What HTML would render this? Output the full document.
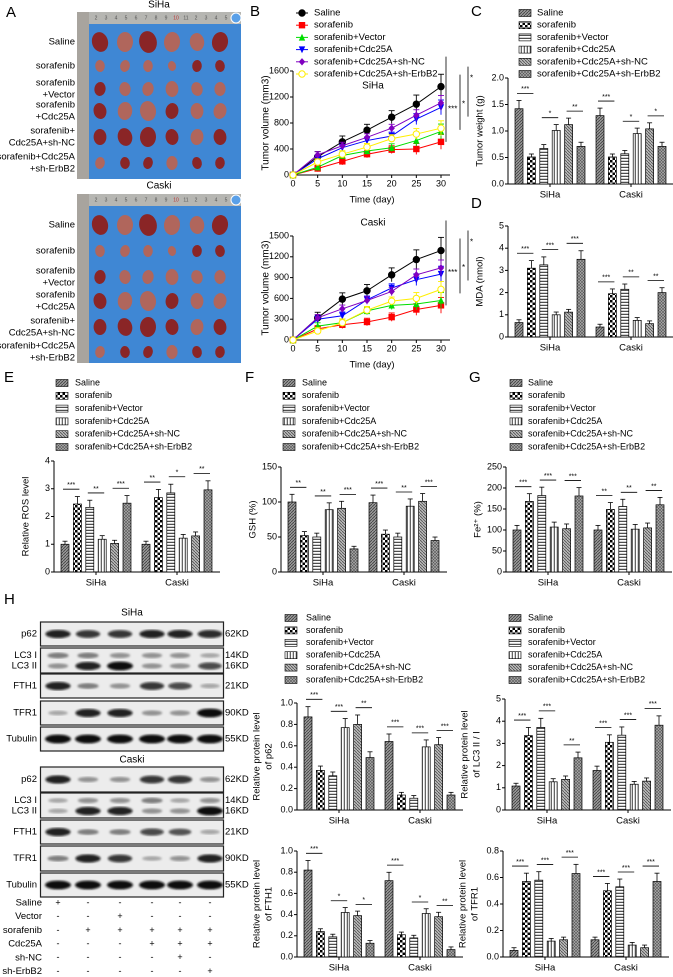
<!DOCTYPE html>
<html><head><meta charset="utf-8"><style>
html,body{margin:0;padding:0;background:#fff}
svg{display:block;font-family:"Liberation Sans",sans-serif}
</style></head><body>
<svg id="fig" width="673" height="977" viewBox="0 0 673 977" xmlns="http://www.w3.org/2000/svg">
<defs>
<pattern id="p0" width="3" height="3" patternUnits="userSpaceOnUse"><rect width="3" height="3" fill="#9a9a9a"/><path d="M0,3L3,0" stroke="#444" stroke-width="0.9"/></pattern>
<pattern id="p1" width="5" height="5" patternUnits="userSpaceOnUse"><rect width="5" height="5" fill="#fff"/><rect width="2.5" height="2.5" fill="#000"/><rect x="2.5" y="2.5" width="2.5" height="2.5" fill="#000"/></pattern>
<pattern id="p2" width="4" height="3" patternUnits="userSpaceOnUse"><rect width="4" height="3" fill="#fff"/><rect y="1.8" width="4" height="1" fill="#222"/></pattern>
<pattern id="p3" width="3" height="4" patternUnits="userSpaceOnUse"><rect width="3" height="4" fill="#fff"/><rect x="1.8" width="0.9" height="4" fill="#222"/></pattern>
<pattern id="p4" width="3" height="3" patternUnits="userSpaceOnUse"><rect width="3" height="3" fill="#bbb"/><path d="M0,0L3,3" stroke="#555" stroke-width="0.9"/></pattern>
<pattern id="p5" width="3" height="3" patternUnits="userSpaceOnUse"><rect width="3" height="3" fill="#aaa"/><path d="M0,3L3,0M0,0L3,3" stroke="#555" stroke-width="0.6"/></pattern>
<filter id="blur"><feGaussianBlur stdDeviation="1.1"/></filter>
</defs>
<g font-size="15">
<text x="6" y="17">A</text>
<text x="250" y="16">B</text>
<text x="471" y="16">C</text>
<text x="471" y="208">D</text>
<text x="4" y="382">E</text>
<text x="245" y="382">F</text>
<text x="469" y="382">G</text>
<text x="4" y="604">H</text>
</g>
<g id="root"></g>
</svg>
<script>
// ---------- data ----------
const groups = ["Saline","sorafenib","sorafenib+Vector","sorafenib+Cdc25A","sorafenib+Cdc25A+sh-NC","sorafenib+Cdc25A+sh-ErbB2"];
const cellLines = ["SiHa","Caski"];
const days = [0,5,10,15,20,25,30];
const siha_saline=[0,280,510,690,890,1090,1360];
const siha_sorafenib=[0,100,210,320,390,400,510];
const siha_vector=[0,120,300,370,420,530,670];
const siha_cdc25a=[0,250,420,530,600,860,1040];
const siha_shnc=[0,310,450,580,720,920,1110];
const siha_sherbb2=[0,200,320,430,560,630,720];
const caski_saline=[0,320,590,710,940,1160,1290];
const caski_sorafenib=[0,160,220,260,330,440,500];
const caski_vector=[0,200,250,420,500,520,570];
const caski_cdc25a=[0,300,350,580,750,870,950];
const caski_shnc=[0,320,450,570,700,940,1040];
const caski_sherbb2=[0,130,250,430,560,600,730];
const lineErr=[0,80,90,90,100,140,190];
const weight_siha=[1.42,0.51,0.67,1.01,1.12,0.71];
const weight_caski=[1.29,0.51,0.57,0.95,1.04,0.71];
const mda_siha=[0.65,3.1,3.25,1.0,1.12,3.5];
const mda_caski=[0.45,1.95,2.15,0.75,0.6,2.0];
const ros_siha=[1.0,2.45,2.33,1.18,1.03,2.48];
const ros_caski=[1.0,2.68,2.85,1.22,1.3,2.96];
const gsh_siha=[100,52,50,89,91,33];
const gsh_caski=[99,54,50,94,101,45];
const fe_siha=[100,168,182,107,103,181];
const fe_caski=[100,149,156,102,105,160];
const p62_siha=[0.87,0.37,0.32,0.77,0.80,0.49];
const p62_caski=[0.64,0.14,0.11,0.59,0.61,0.14];
const lc3_siha=[1.08,3.35,3.72,1.27,1.38,2.35];
const lc3_caski=[1.78,3.05,3.37,1.16,1.30,3.82];
const fth1_siha=[0.82,0.24,0.19,0.42,0.39,0.13];
const fth1_caski=[0.72,0.21,0.18,0.41,0.38,0.07];
const tfr1_siha=[0.05,0.57,0.58,0.12,0.13,0.63];
const tfr1_caski=[0.13,0.50,0.53,0.09,0.07,0.57];
const relErr=0.11;

const NS="http://www.w3.org/2000/svg";
const root=document.getElementById('root');
function mk(tag,attrs,parent){const e=document.createElementNS(NS,tag);for(const k in attrs)e.setAttribute(k,attrs[k]);(parent||root).appendChild(e);return e;}
function txt(x,y,s,size,anchor,parent,extra){const e=mk('text',Object.assign({x:x,y:y,'font-size':size,'text-anchor':anchor||'start','dominant-baseline':'middle'},extra||{}),parent);e.textContent=s;return e;}

// ---------- panel A photos ----------
const photoRowsTop=[42,66,89,111,137,163];
const photoRowsBot=[225,251,277,301,327,352];
const photoCols=[100,125,148,172,197,220];
const tumorSize=[[10,10,11,10,9,10],[6,6,6,5,6,6],[7,7,7,8,7,7],[8,9,10,8,8,8],[8,9,10,8,8,8],[6,6,6,7,6,6]];
const tumorTone=[[1,0,1,0,0,1],[0,0,0,0,1,1],[1,0,0,0,0,0],[1,0,0,1,0,0],[1,1,1,1,0,1],[0,1,1,0,1,1]];
const rowLabels=[["Saline"],["sorafenib"],["sorafenib","+Vector"],["sorafenib","+Cdc25A"],["sorafenib+","Cdc25A+sh-NC"],["sorafenib+Cdc25A","+sh-ErbB2"]];
function photo(y0,y1,rows,title,ty){
  const g=mk('g',{});
  
  
  mk('rect',{x:77,y:y0,width:164,height:y1-y0,fill:'#3f87d4'},g);
  mk('rect',{x:77,y:y0,width:164,height:12,fill:'#b6b6b2'},g);
  mk('rect',{x:77,y:y0,width:12,height:y1-y0,fill:'#a8a49e'},g);
  mk('circle',{cx:236,cy:y0+6,r:5,fill:'#5aa0e8',stroke:'#fff','stroke-width':1},g);
  for(let i=0;i<14;i++){txt(96+i*10,y0+6,String((i%10)+2),5,'middle',g,{fill:i==8?'#b33':'#555'});}
  txt(159,ty,title,10,'middle',g);
  rows.forEach((ry,r)=>{
    photoCols.forEach((cx,c)=>{
      const s=tumorSize[r][c];
      const e=mk('ellipse',{cx:cx,cy:ry,rx:s*0.8,ry:s,fill:tumorTone[r][c]?'#8a2526':'#b0665c',transform:`rotate(${(c*17+r*11)%30-15},${cx},${ry})`},g);
    });
    const lab=rowLabels[r];
    lab.forEach((l,k)=>{txt(75,ry+(k-(lab.length-1)/2)*12,l,9.5,'end',g);});
  });
}
photo(12,179,photoRowsTop,"SiHa",5);
photo(194,363,photoRowsBot,"Caski",186);

// ---------- panel B line charts ----------
const lineColors=['#000','#f00','#00dd00','#0000ff','#8000c0','#ffee00'];
const lineMarkers=['circle','square','tri','tridown','diamond','open'];
function marker(type,x,y,col,g){
  const s=3.2;let e;
  if(type=='circle'||type=='open') e=mk('circle',{cx:x,cy:y,r:s,fill:type=='open'?'#fff':col,stroke:col,'stroke-width':1},g);
  else if(type=='square') e=mk('rect',{x:x-s,y:y-s,width:2*s,height:2*s,fill:col},g);
  else if(type=='tri') e=mk('path',{d:`M${x},${y-s-0.5}L${x+s},${y+s}L${x-s},${y+s}Z`,fill:col},g);
  else if(type=='tridown') e=mk('path',{d:`M${x},${y+s+0.5}L${x+s},${y-s}L${x-s},${y-s}Z`,fill:col},g);
  else e=mk('path',{d:`M${x},${y-s-0.5}L${x+s},${y}L${x},${y+s+0.5}L${x-s},${y}Z`,fill:col},g);
  return e;
}
function lineChart(name,series,y0,yTop,max,tickStep,title,titleY){
  const g=mk('g',{});
  
  
  const ax=293,xEnd=450;
  const X=d=>ax+d/30*148, Y=v=>y0-v/max*(y0-yTop);
  mk('line',{x1:ax,y1:y0,x2:xEnd,y2:y0,stroke:'#000','stroke-width':1},g);
  mk('line',{x1:ax,y1:y0,x2:ax,y2:yTop,stroke:'#000','stroke-width':1},g);
  for(let v=0;v<=max;v+=tickStep){mk('line',{x1:ax-3,y1:Y(v),x2:ax,y2:Y(v),stroke:'#000'},g);txt(ax-4,Y(v),String(v),9,'end',g);}
  days.forEach(d=>{mk('line',{x1:X(d),y1:y0,x2:X(d),y2:y0+3,stroke:'#000'},g);txt(X(d),y0+9,String(d),9,'middle',g);});
  txt(372,y0+25,'Time (day)',9.5,'middle',g);
  txt(0,0,'Tumor volume (mm3)',10,'middle',g,{transform:`translate(266,${(y0+yTop)/2}) rotate(-90)`});
  txt(373,titleY,title,10,'middle',g);
  series.forEach((s,i)=>{
    const pts=s.map((v,k)=>X(days[k])+','+Y(v)).join(' ');
    const pl=mk('polyline',{points:pts,fill:'none',stroke:lineColors[i],'stroke-width':1},g);
    
    
    s.forEach((v,k)=>{
      if(k>0){const e=lineErr[k]*(i==0?1:0.6);mk('line',{x1:X(days[k]),y1:Y(v+e),x2:X(days[k]),y2:Y(v-e),stroke:lineColors[i],'stroke-width':0.9},g);mk('line',{x1:X(days[k])-3,y1:Y(v+e),x2:X(days[k])+3,y2:Y(v+e),stroke:lineColors[i],'stroke-width':0.9},g);}
      const m=marker(lineMarkers[i],X(days[k]),Y(v),lineColors[i],g);
      
      
    });
  });
  const top=Y(series[0][6]),b1=Y(series[1][6]);
  mk('line',{x1:446,y1:top-30,x2:446,y2:b1,stroke:'#000','stroke-width':0.8},g);
  txt(448,(top+b1)/2-5,'***',8,'start',g);
  mk('line',{x1:460,y1:top-12,x2:460,y2:b1-12,stroke:'#000','stroke-width':0.8},g);
  txt(462,(top+b1)/2-10,'*',8,'start',g);
  mk('line',{x1:468,y1:top-20,x2:468,y2:top+30,stroke:'#000','stroke-width':0.8},g);
  txt(470,top-8,'*',8,'start',g);
}
lineChart('tumor-volume-siha-chart',[siha_saline,siha_sorafenib,siha_vector,siha_cdc25a,siha_shnc,siha_sherbb2],175,71,1600,400,'SiHa',86);
lineChart('tumor-volume-caski-chart',[caski_saline,caski_sorafenib,caski_vector,caski_cdc25a,caski_shnc,caski_sherbb2],340,236,1500,300,'Caski',223);
{
  const g=mk('g',{});
  
  
  groups.forEach((n,i)=>{
    const y=13+i*12.2;
    mk('line',{x1:296,y1:y,x2:308,y2:y,stroke:lineColors[i]},g);
    marker(lineMarkers[i],302,y,lineColors[i],g);
    txt(314,y,n,9.5,'start',g);
  });
}

// ---------- bar charts ----------
const fills=['url(#p0)','url(#p1)','url(#p2)','url(#p3)','url(#p4)','url(#p5)'];
function legend(name,sx,tx,y0,dy,size){
  const g=mk('g',{});
  
  
  groups.forEach((n,i)=>{
    const y=y0+i*dy;
    mk('rect',{x:sx,y:y-3.5,width:12,height:7,fill:fills[i],stroke:'#000','stroke-width':0.6},g);
    txt(tx,y,n,size||9.5,'start',g);
  });
}
legend('legend-c',519,537,13,12.2);
legend('legend-e',56,75,383,12.8,9);
legend('legend-f',283,302,383,12.8,9);
legend('legend-g',510,528,383,12.8,9);
legend('legend-h-left',285,306,618,12.4,9);
legend('legend-h-right',509,528,618,12.4,9);

function barChart(name,ax,y0,yTop,max,ticks,tickLabels,vals,ytitle,sig){
  const g=mk('g',{});
  
  
  const Y=v=>y0-v/max*(y0-yTop);
  const centers=[ax+42,ax+123];
  mk('line',{x1:ax,y1:y0,x2:ax+166,y2:y0,stroke:'#000'},g);
  mk('line',{x1:ax,y1:y0,x2:ax,y2:yTop,stroke:'#000'},g);
  ticks.forEach((t,i)=>{mk('line',{x1:ax-3,y1:Y(t),x2:ax,y2:Y(t),stroke:'#000'},g);txt(ax-4,Y(t),tickLabels[i],9,'end',g);});
  centers.forEach((c,gi)=>{
    mk('line',{x1:c,y1:y0,x2:c,y2:y0+3,stroke:'#000'},g);
    txt(c,y0+11,cellLines[gi],9.5,'middle',g);
    vals[gi].forEach((v,i)=>{
      const x=c+(i-2.5)*12.4;
      const e=Math.max(v*relErr,max*0.025);
      mk('line',{x1:x,y1:Y(v),x2:x,y2:Y(v+e),stroke:'#000','stroke-width':0.8},g);
      mk('line',{x1:x-2.5,y1:Y(v+e),x2:x+2.5,y2:Y(v+e),stroke:'#000','stroke-width':0.8},g);
      const b=mk('rect',{x:x-4,y:Y(v),width:8,height:y0-Y(v),fill:fills[i],stroke:'#000','stroke-width':0.7},g);
      
      
    });
    (sig[gi]||[]).forEach(s=>{
      const a=c+(s[0]-2.5)*12.4, bx=c+(s[1]-2.5)*12.4;
      const hy=Y(Math.max(vals[gi][s[0]],vals[gi][s[1]])*1.12+max*0.06);
      mk('line',{x1:a-2,y1:hy,x2:bx+2,y2:hy,stroke:'#000','stroke-width':0.8},g);
      txt((a+bx)/2,hy-4,s[2],7,'middle',g);
    });
  });
  ytitle.forEach((l,k)=>{txt(0,0,l,9.5,'middle',g,{transform:`translate(${ax-28+(k-(ytitle.length-1))*12},${(y0+yTop)/2}) rotate(-90)`});});
}
barChart('tumor-weight-chart',508,184,78,2,[0,0.5,1,1.5,2],["0.0","0.5","1.0","1.5","2.0"],[weight_siha,weight_caski],["Tumor weight (g)"],[[[0,1,'***'],[2,3,'*'],[4,5,'**']],[[0,1,'***'],[2,3,'*'],[4,5,'*']]]);
barChart('mda-chart',508,337,226,5,[0,1,2,3,4,5],["0","1","2","3","4","5"],[mda_siha,mda_caski],["MDA (nmol)"],[[[0,1,'***'],[2,3,'***'],[4,5,'***']],[[0,1,'***'],[2,3,'**'],[4,5,'**']]]);
barChart('ros-chart',54,572,461,4,[0,1,2,3,4],["0","1","2","3","4"],[ros_siha,ros_caski],["Relative ROS level"],[[[0,1,'***'],[2,3,'**'],[4,5,'***']],[[0,1,'**'],[2,3,'*'],[4,5,'**']]]);
barChart('gsh-chart',281,572,467,150,[0,50,100,150],["0","50","100","150"],[gsh_siha,gsh_caski],["GSH (%)"],[[[0,1,'**'],[2,3,'**'],[4,5,'***']],[[0,1,'***'],[2,3,'**'],[4,5,'***']]]);
barChart('fe-chart',506,572,467,250,[0,50,100,150,200,250],["0","50","100","150","200","250"],[fe_siha,fe_caski],["Fe²⁺ (%)"],[[[0,1,'***'],[2,3,'***'],[4,5,'***']],[[0,1,'**'],[2,3,'**'],[4,5,'**']]]);
barChart('p62-chart',297,810,703,1.0,[0,0.2,0.4,0.6,0.8,1.0],["0.0","0.2","0.4","0.6","0.8","1.0"],[p62_siha,p62_caski],["Relative protein level","of p62"],[[[0,1,'***'],[2,3,'***'],[4,5,'**']],[[0,1,'***'],[2,3,'***'],[4,5,'***']]]);
barChart('lc3-chart',505,810,699,5,[0,1,2,3,4,5],["0","1","2","3","4","5"],[lc3_siha,lc3_caski],["Relative protein level","of LC3 II / I"],[[[0,1,'***'],[2,3,'***'],[4,5,'**']],[[0,1,'***'],[2,3,'***'],[4,5,'***']]]);
barChart('fth1-chart',297,957,851,1.0,[0,0.2,0.4,0.6,0.8,1.0],["0.0","0.2","0.4","0.6","0.8","1.0"],[fth1_siha,fth1_caski],["Relative protein level","of FTH1"],[[[0,1,'***'],[2,3,'*'],[4,5,'*']],[[0,1,'***'],[2,3,'*'],[4,5,'**']]]);
barChart('tfr1-chart',503,957,851,0.8,[0,0.2,0.4,0.6,0.8],["0.0","0.2","0.4","0.6","0.8"],[tfr1_siha,tfr1_caski],["Relative protein level","of TFR1"],[[[0,1,'***'],[2,3,'***'],[4,5,'***']],[[0,1,'***'],[2,3,'***'],[4,5,'***']]]);

// ---------- western blots ----------
const laneX=[58,88,120,152,180,210];
const bandSiha={p62:[0.9,0.8,0.8,0.9,0.9,0.85],lc3i:[0.4,0.4,0.3,0.3,0.3,0.2],lc3ii:[0.3,0.9,1,0.3,0.3,0.7],fth1:[0.9,0.4,0.3,0.8,0.7,0.2],tfr1:[0.2,0.9,0.9,0.3,0.3,1],tub:[1,1,1,1,1,1]};
const bandCaski={p62:[0.9,0.3,0.3,0.8,0.8,0.3],lc3i:[0.2,0.3,0.3,0.4,0.2,0.3],lc3ii:[0.2,0.9,0.9,0.3,0.3,1],fth1:[0.9,0.4,0.4,0.7,0.6,0.2],tfr1:[0.4,0.9,0.8,0.2,0.3,0.9],tub:[1,1,1,1,1,1]};
function blot(name,title,ty,boxes,bands){
  const g=mk('g',{});
  
  
  txt(132,ty,title,10,'middle',g);
  const keys=['p62','lc3','fth1','tfr1','tub'];
  const labels={p62:['p62'],lc3:['LC3 I','LC3 II'],fth1:['FTH1'],tfr1:['TFR1'],tub:['Tubulin']};
  const kd={p62:['62KD'],lc3:['14KD','16KD'],fth1:['21KD'],tfr1:['90KD'],tub:['55KD']};
  keys.forEach((k,ri)=>{
    const [y0,y1]=boxes[ri];
    mk('rect',{x:40.5,y:y0,width:183,height:y1-y0,fill:'#ececec',stroke:'#222','stroke-width':1.2},g);
    const rows=k=='lc3'?[['lc3i',y0+(y1-y0)*0.3],['lc3ii',y0+(y1-y0)*0.72]]:[[k,(y0+y1)/2]];
    rows.forEach(([bk,by])=>{
      bands[bk].forEach((v,i)=>{
        const b=mk('ellipse',{cx:laneX[i],cy:by,rx:9+v*4,ry:1.8+v*2.6,fill:'#0a0a0a','fill-opacity':0.12+v*0.88,filter:'url(#blur)'},g);
        
        
      });
    });
    labels[k].forEach((l,j)=>{const yy=labels[k].length>1?y0+(y1-y0)*(j==0?0.3:0.72):(y0+y1)/2;txt(37,yy,l,9.5,'end',g);txt(225,yy,kd[k][j],9.5,'start',g);});
  });
}
blot('blot-siha','SiHa',613,[[622,646],[648,673],[674,698],[701,725],[727,751]],bandSiha);
blot('blot-caski','Caski',760,[[767,792],[793,818],[820,844],[846,871],[873,897]],bandCaski);
const condNames=["Saline","Vector","sorafenib","Cdc25A","sh-NC","sh-ErbB2"];
const condSaline=[1,0,0,0,0,0];
const condVector=[0,0,1,0,0,0];
const condSorafenib=[0,1,1,1,1,1];
const condCdc25a=[0,0,0,1,1,1];
const condShnc=[0,0,0,0,1,0];
const condSherbb2=[0,0,0,0,0,1];
{
  const g=mk('g',{});
  
  
  [condSaline,condVector,condSorafenib,condCdc25a,condShnc,condSherbb2].forEach((row,r)=>{
    const y=903+r*13.7;
    txt(42,y,condNames[r],9.5,'end',g);
    row.forEach((v,i)=>txt(laneX[i],y,v?'+':'-',9,'middle',g));
  });
}
</script>
</body></html>
